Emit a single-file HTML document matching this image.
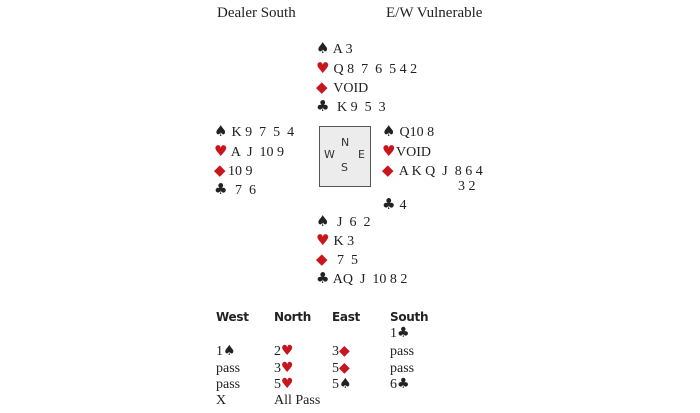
<!DOCTYPE html>
<html><head><meta charset="utf-8"><style>
body{margin:0;width:700px;height:413px;background:#fff;position:relative;overflow:hidden;font-family:"Liberation Serif",serif;color:#222;}
.t{position:absolute;font-size:14px;line-height:16px;white-space:pre;}
.r{color:#c8161d;}
.s{display:inline-block;width:14px;font-family:"DejaVu Sans",sans-serif;font-size:15px;line-height:0;}
.s.d{font-size:15px;width:14px;}
.i{font-family:"DejaVu Sans",sans-serif;font-size:14px;line-height:0;}
.i.d{font-size:14px;}
.h{position:absolute;font-size:15px;line-height:18px;white-space:pre;}
.b{position:absolute;font-family:"DejaVu Sans","Liberation Sans",sans-serif;font-weight:bold;font-size:12px;line-height:16px;letter-spacing:-0.3px;}
.box{position:absolute;left:319px;top:126px;width:50px;height:59px;border:1px solid #555;background:#ececec;}
.c{position:absolute;font-family:"DejaVu Sans",sans-serif;font-size:11px;line-height:12px;color:#333;}
</style></head><body>
<div class="h" style="left:217px;top:4px">Dealer South</div>
<div class="h" style="left:386px;top:4px">E/W Vulnerable</div>

<div class="t" style="left:316px;top:42px"><span class="s">♠</span> A 3</div>
<div class="t" style="left:316px;top:62px"><span class="s r">♥</span> Q 8  7  6  5 4 2</div>
<div class="t" style="left:316px;top:81px"><span class="s r d">◆</span> VOID</div>
<div class="t" style="left:316px;top:100px"><span class="s">♣</span>  K 9  5  3</div>

<div class="t" style="left:214px;top:125px"><span class="s">♠</span> K 9  7  5  4</div>
<div class="t" style="left:214px;top:145px"><span class="s r">♥</span> A  J  10 9</div>
<div class="t" style="left:214px;top:164px"><span class="s r d">◆</span>10 9</div>
<div class="t" style="left:214px;top:183px"><span class="s">♣</span>  7  6</div>

<div class="box"></div>
<div class="c" style="left:341px;top:137px">N</div>
<div class="c" style="left:324px;top:149px">W</div>
<div class="c" style="left:358px;top:149px">E</div>
<div class="c" style="left:341px;top:162px">S</div>

<div class="t" style="left:382px;top:125px"><span class="s">♠</span> Q10 8</div>
<div class="t" style="left:382px;top:145px"><span class="s r">♥</span>VOID</div>
<div class="t" style="left:382px;top:164px"><span class="s r d">◆</span> A K Q  J  8 6 4</div>
<div class="t" style="left:458px;top:179px">3 2</div>
<div class="t" style="left:382px;top:198px"><span class="s">♣</span> 4</div>

<div class="t" style="left:316px;top:215px"><span class="s">♠</span>  J  6  2</div>
<div class="t" style="left:316px;top:234px"><span class="s r">♥</span> K 3</div>
<div class="t" style="left:316px;top:253px"><span class="s r d">◆</span>  7  5</div>
<div class="t" style="left:316px;top:272px"><span class="s">♣</span> AQ  J  10 8 2</div>

<div class="b" style="left:216px;top:309px">West</div>
<div class="b" style="left:274px;top:309px">North</div>
<div class="b" style="left:332px;top:309px">East</div>
<div class="b" style="left:390px;top:309px">South</div>

<div class="t" style="left:390px;top:326px">1<span class="i">♣</span></div>
<div class="t" style="left:216px;top:344px">1<span class="i">♠</span></div>
<div class="t" style="left:274px;top:344px">2<span class="i r">♥</span></div>
<div class="t" style="left:332px;top:344px">3<span class="i r d">◆</span></div>
<div class="t" style="left:390px;top:344px">pass</div>
<div class="t" style="left:216px;top:361px">pass</div>
<div class="t" style="left:274px;top:361px">3<span class="i r">♥</span></div>
<div class="t" style="left:332px;top:361px">5<span class="i r d">◆</span></div>
<div class="t" style="left:390px;top:361px">pass</div>
<div class="t" style="left:216px;top:377px">pass</div>
<div class="t" style="left:274px;top:377px">5<span class="i r">♥</span></div>
<div class="t" style="left:332px;top:377px">5<span class="i">♠</span></div>
<div class="t" style="left:390px;top:377px">6<span class="i">♣</span></div>
<div class="t" style="left:216px;top:393px">X</div>
<div class="t" style="left:274px;top:393px">All Pass</div>
</body></html>
